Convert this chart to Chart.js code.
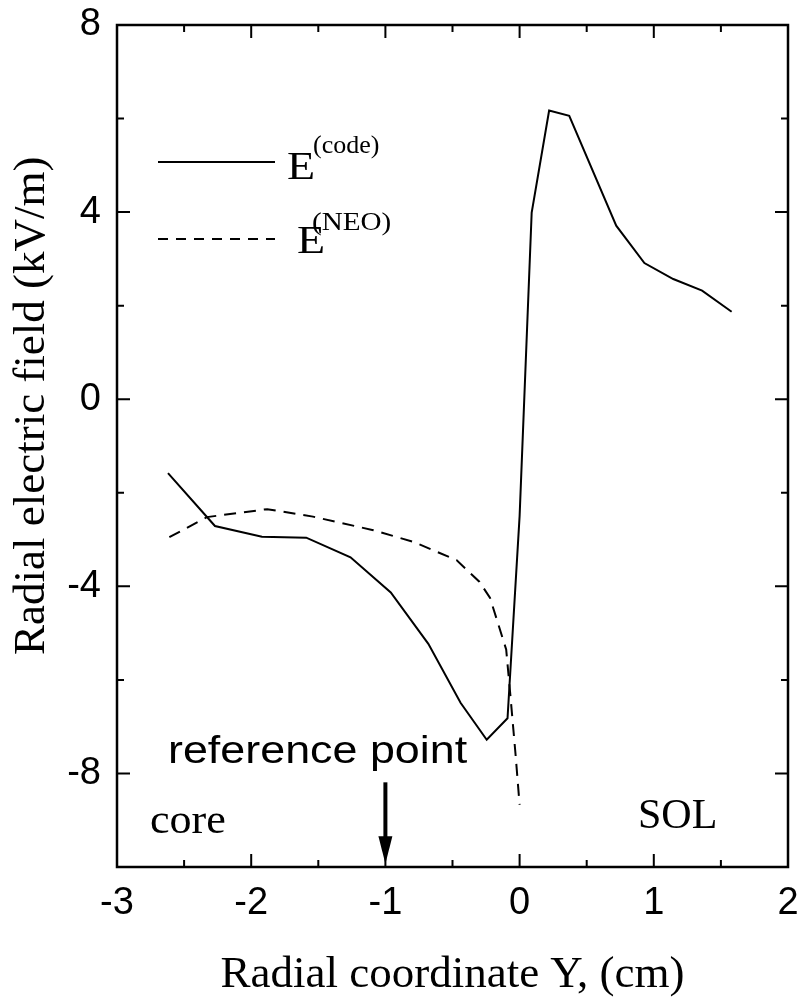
<!DOCTYPE html>
<html>
<head>
<meta charset="utf-8">
<script src="https://cdn.jsdelivr.net/npm/chart.js@4"></script>
<style>
  body { margin: 0; background: #fff; }
  #wrap { width: 801px; height: 998px; }
</style>
</head>
<body>
<div id="wrap"><canvas id="efield"></canvas></div>
<script>
// E(code) curve
let codeX = [-2.62, -2.27, -1.92, -1.59, -1.26, -0.96, -0.68, -0.44, -0.245, -0.09, 0.0, 0.09, 0.22, 0.37, 0.72, 0.93, 1.145, 1.36, 1.58];
let codeY = [-1.58, -2.71, -2.94, -2.96, -3.38, -4.13, -5.23, -6.49, -7.28, -6.82, -2.5, 3.99, 6.17, 6.06, 3.71, 2.91, 2.57, 2.32, 1.87];

// E(NEO) curve
let neoX = [-2.61, -2.33, -1.88, -1.54, -1.09, -0.79, -0.47, -0.30, -0.22, -0.10, -0.07, -0.03, 0.0];
let neoY = [-2.95, -2.52, -2.35, -2.51, -2.80, -3.05, -3.44, -3.90, -4.25, -5.35, -6.29, -7.60, -8.67];

let xTicks = [-3, -2, -1, 0, 1, 2];
let xMinor = [-2.5, -1.5, -0.5, 0.5, 1.5];
let yTicks = [8, 4, 0, -4, -8];
let yMinor = [6, 2, -2, -6];

const serif = "'Liberation Serif', 'Times New Roman', serif";
const sans = "'Liberation Sans', Arial, sans-serif";

function pts(xs, ys) {
  return xs.map((v, i) => ({ x: v, y: ys[i] }));
}

// text a bit wider than the font, like the original figure
function wideText(ctx, txt, px, py, sx) {
  ctx.save();
  ctx.translate(px, py);
  ctx.scale(sx, 1);
  ctx.fillText(txt, 0, 0);
  ctx.restore();
}

const decor = {
  id: "decor",
  afterDraw(chart) {
    const { ctx, chartArea: a, scales: { x, y } } = chart;
    ctx.save();
    ctx.strokeStyle = "#000";
    ctx.fillStyle = "#000";

    // frame
    ctx.lineWidth = 2.5;
    ctx.strokeRect(a.left, a.top, a.right - a.left, a.bottom - a.top);

    // inward ticks on all four sides
    ctx.lineWidth = 2;
    ctx.beginPath();
    const tx = (v, len) => {
      const px = x.getPixelForValue(v);
      ctx.moveTo(px, a.bottom); ctx.lineTo(px, a.bottom - len);
      ctx.moveTo(px, a.top); ctx.lineTo(px, a.top + len);
    };
    const ty = (v, len) => {
      const py = y.getPixelForValue(v);
      ctx.moveTo(a.left, py); ctx.lineTo(a.left + len, py);
      ctx.moveTo(a.right, py); ctx.lineTo(a.right - len, py);
    };
    xTicks.forEach(v => tx(v, 13));
    xMinor.forEach(v => tx(v, 7));
    yTicks.forEach(v => ty(v, 13));
    yMinor.forEach(v => ty(v, 7));
    ctx.stroke();

    // axis titles
    ctx.font = "45px " + serif;
    ctx.textAlign = "center";
    ctx.textBaseline = "alphabetic";
    ctx.fillText("Radial coordinate Y, (cm)", (a.left + a.right) / 2, 987);
    ctx.save();
    ctx.translate(44, 655);
    ctx.rotate(-Math.PI / 2);
    ctx.textAlign = "left";
    ctx.fillText("Radial electric field (kV/m)", 0, 0);
    ctx.restore();

    // legend
    ctx.lineWidth = 2;
    ctx.beginPath();
    ctx.moveTo(158, 162); ctx.lineTo(275, 162);
    ctx.stroke();
    ctx.setLineDash([10, 8]);
    ctx.beginPath();
    ctx.moveTo(158, 239); ctx.lineTo(275, 239);
    ctx.stroke();
    ctx.setLineDash([]);
    ctx.textAlign = "left";
    ctx.font = "40px " + serif;
    wideText(ctx, "E", 287, 179, 1.15);
    wideText(ctx, "E", 297, 253, 1.15);
    ctx.font = "26px " + serif;
    wideText(ctx, "(code)", 313, 153, 1.0);
    wideText(ctx, "(NEO)", 312, 230, 1.12);

    // region labels
    ctx.font = "42px " + serif;
    wideText(ctx, "core", 150, 833, 1.05);
    wideText(ctx, "SOL", 638, 828, 1.0);

    // reference point
    ctx.font = "38px " + sans;
    wideText(ctx, "reference point", 168, 763, 1.18);
    const ax = x.getPixelForValue(-1);
    const top = y.getPixelForValue(-8.19);
    const base = y.getPixelForValue(-9.34);
    const tip = y.getPixelForValue(-9.93);
    ctx.lineWidth = 4;
    ctx.beginPath();
    ctx.moveTo(ax, top); ctx.lineTo(ax, base + 2);
    ctx.stroke();
    ctx.beginPath();
    ctx.moveTo(ax - 7, base); ctx.lineTo(ax + 7, base); ctx.lineTo(ax, tip);
    ctx.closePath();
    ctx.fill();

    ctx.restore();
  }
};

let efield = document.getElementById("efield").getContext("2d");

let efieldChart = new Chart(efield, {
  type: "scatter",
  data: {
    datasets: [
      {
        label: "E(code)",
        data: pts(codeX, codeY),
        showLine: true,
        borderColor: "#000",
        borderWidth: 2,
        pointRadius: 0,
      },
      {
        label: "E(NEO)",
        data: pts(neoX, neoY),
        showLine: true,
        borderColor: "#000",
        borderWidth: 2,
        borderDash: [12, 8],
        pointRadius: 0,
      },
    ],
  },
  options: {
    responsive: true,
    maintainAspectRatio: false,
    animation: false,
    devicePixelRatio: 1,
    layout: { padding: { left: 0, top: 25, right: 13, bottom: 0 } },
    plugins: {
      legend: { display: false },
      tooltip: { enabled: false },
    },
    scales: {
      x: {
        type: "linear",
        min: -3,
        max: 2,
        afterBuildTicks: (s) => { s.ticks = xTicks.map(v => ({ value: v })); },
        afterFit: (s) => {
          s.height = 131;
          s.paddingLeft = 0;
          s.paddingRight = 0;
        },
        grid: { display: false, drawTicks: false },
        border: { display: false },
        ticks: {
          color: "#000",
          padding: 14,
          maxRotation: 0,
          font: { family: sans, size: 38 },
        },
      },
      y: {
        type: "linear",
        min: -10,
        max: 8,
        afterBuildTicks: (s) => { s.ticks = yTicks.map(v => ({ value: v })); },
        afterFit: (s) => {
          s.width = 117;
          s.paddingTop = 0;
          s.paddingBottom = 0;
        },
        grid: { display: false, drawTicks: false },
        border: { display: false },
        ticks: {
          color: "#000",
          padding: 16,
          font: { family: sans, size: 38 },
        },
      },
    },
  },
  plugins: [decor],
});
</script>
</body>
</html>
